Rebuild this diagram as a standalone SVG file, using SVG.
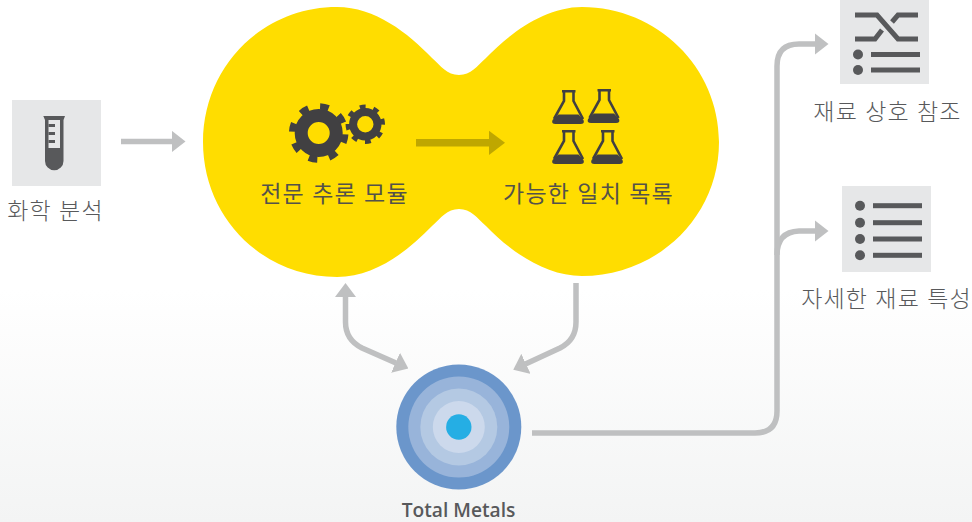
<svg xmlns="http://www.w3.org/2000/svg" width="972" height="522" viewBox="0 0 972 522">
<defs>
<linearGradient id="bg" x1="0" y1="0" x2="0" y2="1"><stop offset="0" stop-color="#ffffff"/><stop offset="1" stop-color="#f3f4f4"/></linearGradient>
<marker id="head" markerUnits="userSpaceOnUse" markerWidth="14" markerHeight="22" refX="0.5" refY="11" orient="auto"><path d="M0 0L14 11L0 22Z" fill="#bfc0c1"/></marker>
<marker id="headDark" markerUnits="userSpaceOnUse" markerWidth="17" markerHeight="25" refX="0.5" refY="12.5" orient="auto"><path d="M0 0L16.5 12.5L0 25Z" fill="#bfa700"/></marker>
<g id="flask"><path d="M10 1.2H23.5M12 1.2V11L2 29M21.5 1.2V11L31 29" fill="none" stroke="#414042" stroke-width="2.6"/><path d="M6.5 24.5H26.5L31.5 30Q33 34 28.5 34H3.5Q-1 34 .5 30Z" fill="#414042"/></g>
</defs>
<style>
.lbl{font-family:"Noto Sans CJK KR","Noto Sans",sans-serif;font-size:23px;fill:#58595b;text-anchor:middle;font-weight:300;letter-spacing:1.15px;word-spacing:1px}
.on{font-weight:400;fill:#54524a}
.box{fill:#e6e7e8}
.ic{fill:#58595b}
.cn{fill:none;stroke:#bfc0c1;stroke-width:5.5;marker-end:url(#head)}
</style>
<rect y="290" width="972" height="232" fill="url(#bg)"/>
<g id="blob"><path d="M459 75C447 75 441 66 432 58C408 33 375 7 337 7C262 7 203 67 203 142C203 217 262 277 337 277C375 277 408 251 432 226C441 218 447 209 459 209C471 209 477 218 486 226C510 251 545 276 582 276C657 276 719 217 719 142C719 67 657 7 582 7C545 7 510 33 486 58C477 66 471 75 459 75Z" fill="#ffdd00"/></g>
<g id="connectors">
<path class="cn" d="M121 141.5H172"/>
<path d="M416 142.8H489" fill="none" stroke="#bfa700" stroke-width="7.6" marker-end="url(#headDark)"/>
<path class="cn" d="M345.5 297V322C345.5 335 352 343 362 348L396 363"/>
<path d="M335 297H356L345.5 283Z" fill="#bfc0c1"/>
<path class="cn" d="M576 283V322C576 335 570 343 560 348L525.5 364"/>
<path class="cn" d="M532 433H755Q777 433 777 411V66Q777 44 799 44H815"/>
<path class="cn" d="M777 255Q777 232 799 231H815"/>
</g>
<g id="analysis">
<rect class="box" x="12" y="100" width="89" height="86"/>
<path class="ic" d="M43.3 116H65L63.5 120V161A9.25 9.25 0 0 1 45 161V120Z"/>
<rect class="box" x="48.5" y="120" width="11.5" height="28"/>
<path class="ic" d="M48.5 124h6.5v3h-6.5zM48.5 132h6.5v3h-6.5zM48.5 140h6.5v3h-6.5z"/>
<text class="lbl" x="55.5" y="219">화학 분석</text>
</g>
<g id="module">
<circle cx="318.7" cy="133" r="17.5" fill="none" stroke="#414042" stroke-width="13"/>
<circle cx="318.7" cy="133" r="26.5" fill="none" stroke="#414042" stroke-width="6.5" pathLength="8" stroke-dasharray=".42 .58" transform="rotate(3 318.7 133)"/>
<circle cx="365.3" cy="124.3" r="12.2" fill="none" stroke="#414042" stroke-width="8"/>
<circle cx="365.3" cy="124.3" r="17.5" fill="none" stroke="#414042" stroke-width="4.5" pathLength="8" stroke-dasharray=".42 .58" transform="rotate(27 365.3 124.3)"/>
<text class="lbl on" x="334.5" y="202">전문 추론 모듈</text>
</g>
<g id="matches">
<use href="#flask" x="552" y="90"/>
<use href="#flask" x="587.5" y="89"/>
<use href="#flask" x="552" y="130"/>
<use href="#flask" x="591" y="130"/>
<text class="lbl on" x="588.5" y="202">가능한 일치 목록</text>
</g>
<g id="crossref">
<rect class="box" x="840" y="0" width="89" height="84"/>
<path d="M855 15H877L898 39H918M855 39H875L882 30M892 22L898 15H918" fill="none" stroke="#58595b" stroke-width="5"/>
<circle class="ic" cx="858" cy="54.5" r="5"/><circle class="ic" cx="858" cy="70" r="5"/>
<rect class="ic" x="871" y="52" width="49" height="5"/><rect class="ic" x="871" y="67.5" width="49" height="5"/>
<text class="lbl" x="887.5" y="120">재료 상호 참조</text>
</g>
<g id="properties">
<rect class="box" x="842" y="186" width="89" height="86"/>
<circle class="ic" cx="860" cy="205.7" r="5"/><circle class="ic" cx="860" cy="222.7" r="5"/><circle class="ic" cx="860" cy="239" r="5"/><circle class="ic" cx="860" cy="255.3" r="5"/>
<rect class="ic" x="873" y="203.2" width="49" height="5"/><rect class="ic" x="873" y="220.2" width="49" height="5"/><rect class="ic" x="873" y="236.5" width="49" height="5"/><rect class="ic" x="873" y="252.8" width="49" height="5"/>
<text class="lbl" x="886.5" y="307">자세한 재료 특성</text>
</g>
<g id="total-metals">
<circle cx="458.8" cy="427" r="62.5" fill="#6b96cb"/>
<circle cx="458.8" cy="427" r="50.5" fill="#98b4da"/>
<circle cx="458.8" cy="427" r="38.5" fill="#b4c9e3"/>
<circle cx="458.8" cy="427" r="26" fill="#ccd9ec"/>
<circle cx="458.8" cy="427" r="12.7" fill="#25aee4"/>
<text x="458.5" y="517" font-family="'Open Sans',sans-serif" font-size="19.2" font-weight="600" fill="#58595b" text-anchor="middle">Total Metals</text>
</g>
</svg>
